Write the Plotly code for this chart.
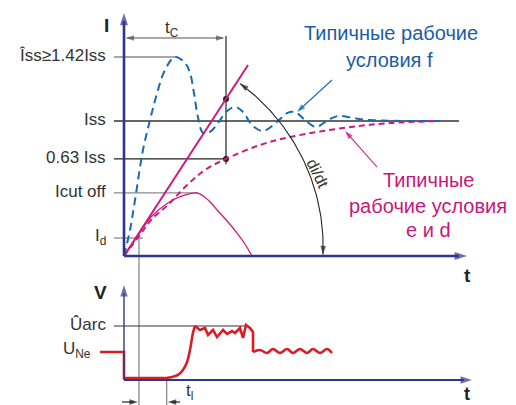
import numpy as np
import plotly.graph_objects as go

# ---------------- data (t in units of tc, I in units of Iss, V in units of Ûarc) -------------
blue_t = [0, 0.059, 0.108, 0.186, 0.255, 0.314, 0.402, 0.5, 0.598, 0.647, 0.686, 0.725, 0.775,
          0.843, 0.922, 1.0, 1.088, 1.167, 1.255, 1.363, 1.5, 1.598, 1.676, 1.775, 1.882, 2.0,
          2.098, 2.245, 2.412, 3.098]
blue_I = [0, 0.193, 0.415, 0.785, 1.007, 1.178, 1.378, 1.474, 1.430, 1.356, 1.207, 1.030, 0.911,
          0.919, 0.985, 1.067, 1.104, 1.067, 0.970, 0.926, 0.993, 1.059, 1.067, 1.007, 0.956, 1.007,
          1.037, 1.022, 1.007, 1.0]

mag_dash_t = [0, 0.157, 0.265, 0.431, 0.598, 0.794, 1.0, 1.333, 1.627, 2.147, 2.608, 3.098]
mag_dash_I = [0, 0.156, 0.267, 0.378, 0.511, 0.637, 0.719, 0.822, 0.881, 0.948, 0.985, 1.0]

cut_t = [0, 0.108, 0.265, 0.431, 0.598, 0.716, 0.824, 0.922, 1.020, 1.108, 1.186, 1.255]
cut_I = [0, 0.119, 0.289, 0.393, 0.452, 0.467, 0.415, 0.333, 0.252, 0.170, 0.089, 0]

ramp_t = [0, 1.216]
ramp_I = [0, 1.415]

# arc voltage
v_step_t = [-0.235, 0, 0, 0.412]
v_step_V = [0.519, 0.519, 0.037, 0.037]
v_rise_t = [0.412, 0.471, 0.529, 0.578, 0.618, 0.647, 0.676, 0.696]
v_rise_V = [0.037, 0.056, 0.093, 0.185, 0.333, 0.556, 0.870, 1.0]
v_arc_t = [0.696, 0.745, 0.794, 0.824, 0.873, 0.912, 0.971, 1.010, 1.059, 1.088, 1.137, 1.167,
           1.196, 1.235, 1.265, 1.265]
v_arc_V = [1.0, 0.926, 0.963, 0.833, 0.926, 0.796, 0.926, 0.852, 0.907, 0.870, 0.963, 0.778,
           1.019, 0.963, 0.889, 0.519]
v_wave_t = [1.265, 1.333, 1.402, 1.461, 1.529, 1.598, 1.657, 1.725, 1.794, 1.853, 1.922, 1.990, 2.039]
v_wave_V = [0.519, 0.556, 0.5, 0.574, 0.5, 0.574, 0.5, 0.574, 0.5, 0.574, 0.5, 0.574, 0.5]

level_labels = ["Îss≥1.42Iss", "Iss", "0.63 Iss", "Icut off", "I<sub>d</sub>"]
level_I = [1.474, 1.0, 0.719, 0.467, 0.133]
level_end_t = [0.52, 3.284, 1.0, 0.725, 0.186]
level_color = ["#8a8a8a", "#333333", "#222222", "#8a8a8a", "#8a8a8a"]

tc = 1.0
I_at_tc = [1.163, 0.719]
Uarc = 1.0
UNe = 0.519
t_l = [0.147, 0.418]

# ---------------- geometry of the canvas ----------------
W, H = 516, 405
X0, PXT = 124, 102.0       # t = 0 at x=124 px, 102 px per tc
YI0, PXI = 256, 135.0      # I = 0 at y=256 px
YV0, PXV = 380, 54.0       # V = 0 at y=380 px

AXIS = "#2e3590"
BLUE = "#1b68b5"
MAG = "#cf1a7b"
RED = "#d71e26"
TXT = "#333333"
FONT = "Liberation Sans, Arial, sans-serif"

fig = go.Figure()


def line(xs, ys, color, width, yaxis="y", dash=None, shape="linear"):
    fig.add_trace(go.Scatter(x=xs, y=ys, mode="lines", yaxis=yaxis, hoverinfo="skip",
                             line=dict(color=color, width=width, dash=dash, shape=shape)))


def scale(yaxis):
    return PXI if yaxis == "y" else PXV


def arrow(x0, y0, x1, y1, color, width, size, yaxis="y", back=4):
    s = scale(yaxis)
    dxp, dyp = (x1 - x0) * PXT, (y1 - y0) * s
    L = (dxp ** 2 + dyp ** 2) ** 0.5
    xb = x1 - dxp / L * back / PXT
    yb = y1 - dyp / L * back / s
    if width > 0:
        line([x0, xb], [y0, yb], color, width, yaxis)
    fig.add_trace(go.Scatter(x=[xb, x1], y=[yb, y1], mode="markers", yaxis=yaxis, hoverinfo="skip",
                             marker=dict(symbol="arrow", size=[0, size], angleref="previous",
                                         color=color, line=dict(width=0))))


# level lines (upper)
for yv, te, c in zip(level_I, level_end_t, level_color):
    line([-0.098, te], [yv, yv], c, 1.3)
# tc vertical line + dots
line([tc, tc], [1.63, 0.68], "#222222", 1.2)
fig.add_trace(go.Scatter(x=[tc, tc], y=I_at_tc, mode="markers", hoverinfo="skip",
                         marker=dict(color="#222222", size=6)))
# vertical helper lines
line([t_l[0], t_l[0]], [0.15, -1.11], "#8a8a8a", 1.3)
line([t_l[1], t_l[1]], [0.04, -0.47], "#8a8a8a", 1.3, yaxis="y2")
# Uarc level
line([-0.098, 1.206], [Uarc, Uarc], "#333333", 1.2, yaxis="y2")

# curves
line(cut_t, cut_I, MAG, 1.3, shape="spline")
line(mag_dash_t, mag_dash_I, MAG, 2, dash="6px,4px", shape="spline")
line(ramp_t, ramp_I, MAG, 2)
line(blue_t, blue_I, BLUE, 2, dash="8px,5px", shape="spline")

line(v_step_t, v_step_V, RED, 2.6, yaxis="y2")
line(v_rise_t, v_rise_V, RED, 2.6, yaxis="y2", shape="spline")
line(v_arc_t, v_arc_V, RED, 2.6, yaxis="y2")
line(v_wave_t, v_wave_V, RED, 2.6, yaxis="y2", shape="spline")

# di/dt arc
th = np.linspace(0, np.radians(55.8), 80)
r = 199 + 7.5 * th / np.radians(55.8)
arc_t = r * np.cos(th) / PXT
arc_I = r * np.sin(th) / PXI + 0.012
line(list(arc_t), list(arc_I), "#222222", 1.1)
arrow(arc_t[-4], arc_I[-4], arc_t[-1], arc_I[-1], "#222222", 0, 9, back=2)
arrow(arc_t[3], arc_I[3], arc_t[0], arc_I[0], "#222222", 0, 9, back=2)

# axes
arrow(0, 0, 0, (YI0 - 13) / PXI, AXIS, 2.6, 13, back=8)
arrow(0, 0, (467 - X0) / PXT, 0, AXIS, 2.6, 13, back=8)
arrow(0, 0, 0, (YV0 - 285) / PXV, AXIS, 1.4, 12, yaxis="y2", back=8)
arrow(0, 0, (472 - X0) / PXT, 0, AXIS, 2.0, 12, yaxis="y2", back=8)

# tc dimension arrow
ytc = (YI0 - 38) / PXI
line([0.03, 0.97], [ytc, ytc], "#555555", 1.1)
arrow(0.5, ytc, 0.015, ytc, "#555555", 0, 9, back=3)
arrow(0.5, ytc, 0.985, ytc, "#555555", 0, 9, back=3)

# tl dimension arrows
ytl = (YV0 - 402) / PXV
arrow(-0.02, ytl, t_l[0] - 0.01, ytl, "#111111", 1.1, 9, yaxis="y2", back=4)
arrow(0.55, ytl, t_l[1] + 0.01, ytl, "#111111", 1.1, 9, yaxis="y2", back=4)

# pointer arrows for the legends
arrow((332 - X0) / PXT, (YI0 - 80) / PXI, (297 - X0) / PXT, (YI0 - 112) / PXI, BLUE, 1.1, 9, back=3)
arrow((377 - X0) / PXT, (YI0 - 167) / PXI, (345 - X0) / PXT, (YI0 - 131) / PXI, MAG, 1.1, 9, back=3)

# ---------------- texts ----------------
ann = []


def text(x, y, s, size=17, color=TXT, xanchor="center", yref="y", angle=0, bold=False):
    ann.append(dict(x=x, y=y, xref="x", yref=yref, text=("<b>%s</b>" % s) if bold else s,
                    showarrow=False, xanchor=xanchor, yanchor="middle", textangle=angle,
                    font=dict(size=size, color=color, family=FONT)))


xl = (108 - X0) / PXT
for lab, yv in zip(level_labels, level_I):
    text(xl, yv + 0.01, lab, xanchor="right")
text(xl, Uarc + 0.03, "Ûarc", xanchor="right", yref="y2")
text((93 - X0) / PXT, UNe + 0.03, "U<sub>Ne</sub>", xanchor="right", yref="y2")
text((106 - X0) / PXT, (YI0 - 25) / PXI, "I", size=19, color="#222222", bold=True)
text((100 - X0) / PXT, (YV0 - 292) / PXV, "V", size=19, color="#222222", bold=True, yref="y2")
text((467 - X0) / PXT, (YI0 - 275) / PXI, "t", size=19, color="#222222", bold=True)
text((467 - X0) / PXT, (YV0 - 394) / PXV, "t", size=18, color="#222222", bold=True, yref="y2")
text((172 - X0) / PXT, (YI0 - 29) / PXI, "t<sub>C</sub>", size=17)
text((189 - X0) / PXT, (YV0 - 392) / PXV, "t<sub>l</sub>", size=17, yref="y2")
text((318 - X0) / PXT, (YI0 - 173) / PXI, "di/dt", size=16, angle=64)

text((391 - X0) / PXT, (YI0 - 33) / PXI, "Типичные рабочие", size=20, color="#1d5ca6")
text((389 - X0) / PXT, (YI0 - 60) / PXI, "условия f", size=20, color="#1d5ca6")
text((428 - X0) / PXT, (YI0 - 180) / PXI, "Типичные", size=20, color="#c8177a")
text((428 - X0) / PXT, (YI0 - 206) / PXI, "рабочие условия", size=20, color="#c8177a")
text((428 - X0) / PXT, (YI0 - 230) / PXI, "e и d", size=20, color="#c8177a")

fig.update_layout(
    width=W, height=H, autosize=False,
    margin=dict(l=0, r=0, t=0, b=0, pad=0),
    paper_bgcolor="white", plot_bgcolor="white",
    showlegend=False,
    xaxis=dict(range=[-X0 / PXT, (W - X0) / PXT], visible=False, fixedrange=True),
    yaxis=dict(range=[-(H - YI0) / PXI, YI0 / PXI], visible=False, fixedrange=True),
    yaxis2=dict(range=[-(H - YV0) / PXV, YV0 / PXV], visible=False, overlaying="y",
                fixedrange=True),
    annotations=ann,
)

fig.write_html("out.html", config={"displayModeBar": False})
